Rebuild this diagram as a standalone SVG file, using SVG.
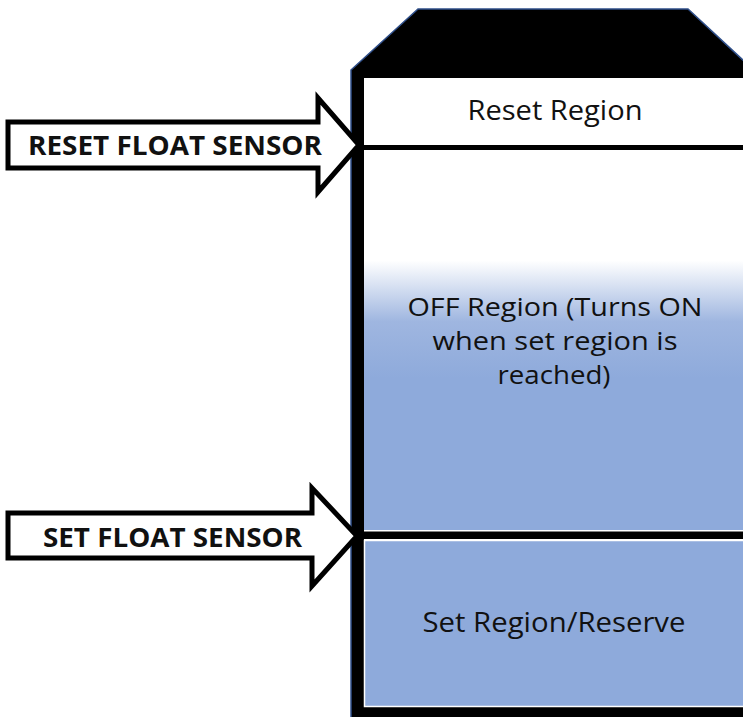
<svg xmlns="http://www.w3.org/2000/svg" width="743" height="717" viewBox="0 0 743 717">
<style>
.lbl{font-family:"Open Sans","Liberation Sans",sans-serif;fill:#111;text-anchor:middle;font-size:28px}
.lbl2{font-family:"Open Sans","Liberation Sans",sans-serif;fill:#111;text-anchor:middle;font-size:25px}
.arrow{fill:#fff;stroke:#000;stroke-width:5;stroke-linejoin:miter}
.atext{font-family:"Open Sans","Liberation Sans",sans-serif;font-weight:bold;fill:#111;font-size:27px}
</style>
<defs>
<linearGradient id="off" x1="0" y1="0" x2="0" y2="1">
<stop offset="0" stop-color="#ffffff"/>
<stop offset="0.29" stop-color="#ffffff"/>
<stop offset="0.45" stop-color="#9fb6e0"/>
<stop offset="0.6" stop-color="#8eaadb"/>
<stop offset="1" stop-color="#8eaadb"/>
</linearGradient>
</defs>
<rect width="743" height="717" fill="#fff"/>
<g id="tank">
<polygon points="351,70 418,9 688,9 745,62 745,720 351,720" fill="#000" stroke="#2f4f8a" stroke-width="1.5"/>
<rect id="reset-region" x="364" y="78" width="381" height="67" fill="#fff"/>
<rect x="364" y="145" width="381" height="5" fill="#000"/>
<rect id="off-region" x="364" y="150" width="381" height="381" fill="url(#off)"/>
<rect x="364" y="530" width="381" height="1.5" fill="#fff"/>
<rect x="364" y="539" width="381" height="1.5" fill="#fff"/>
<rect id="set-region" x="364.5" y="540.5" width="381" height="166" fill="#8eaadb" stroke="#fff" stroke-width="1.5"/>
<text class="lbl" x="555" y="120" textLength="175" lengthAdjust="spacingAndGlyphs">Reset Region</text>
<text class="lbl2" x="555" y="316" textLength="295" lengthAdjust="spacingAndGlyphs">OFF Region (Turns ON</text>
<text class="lbl2" x="555" y="350" textLength="245" lengthAdjust="spacingAndGlyphs">when set region is</text>
<text class="lbl2" x="554" y="384" textLength="113" lengthAdjust="spacingAndGlyphs">reached)</text>
<text class="lbl" x="554" y="632" textLength="263" lengthAdjust="spacingAndGlyphs">Set Region/Reserve</text>
</g>
<g id="connectors">
<g id="reset-arrow">
<polygon class="arrow" points="8,122 318,122 318,98 359,145 318,192 318,168 8,168"/>
<text class="atext" x="28" y="155" textLength="294" lengthAdjust="spacingAndGlyphs">RESET FLOAT SENSOR</text>
</g>
<g id="set-arrow">
<polygon class="arrow" points="8,513 312,513 312,488 357,536 312,586 312,558 8,558"/>
<text class="atext" x="43" y="547" textLength="259" lengthAdjust="spacingAndGlyphs">SET FLOAT SENSOR</text>
</g>
</g>
</svg>
